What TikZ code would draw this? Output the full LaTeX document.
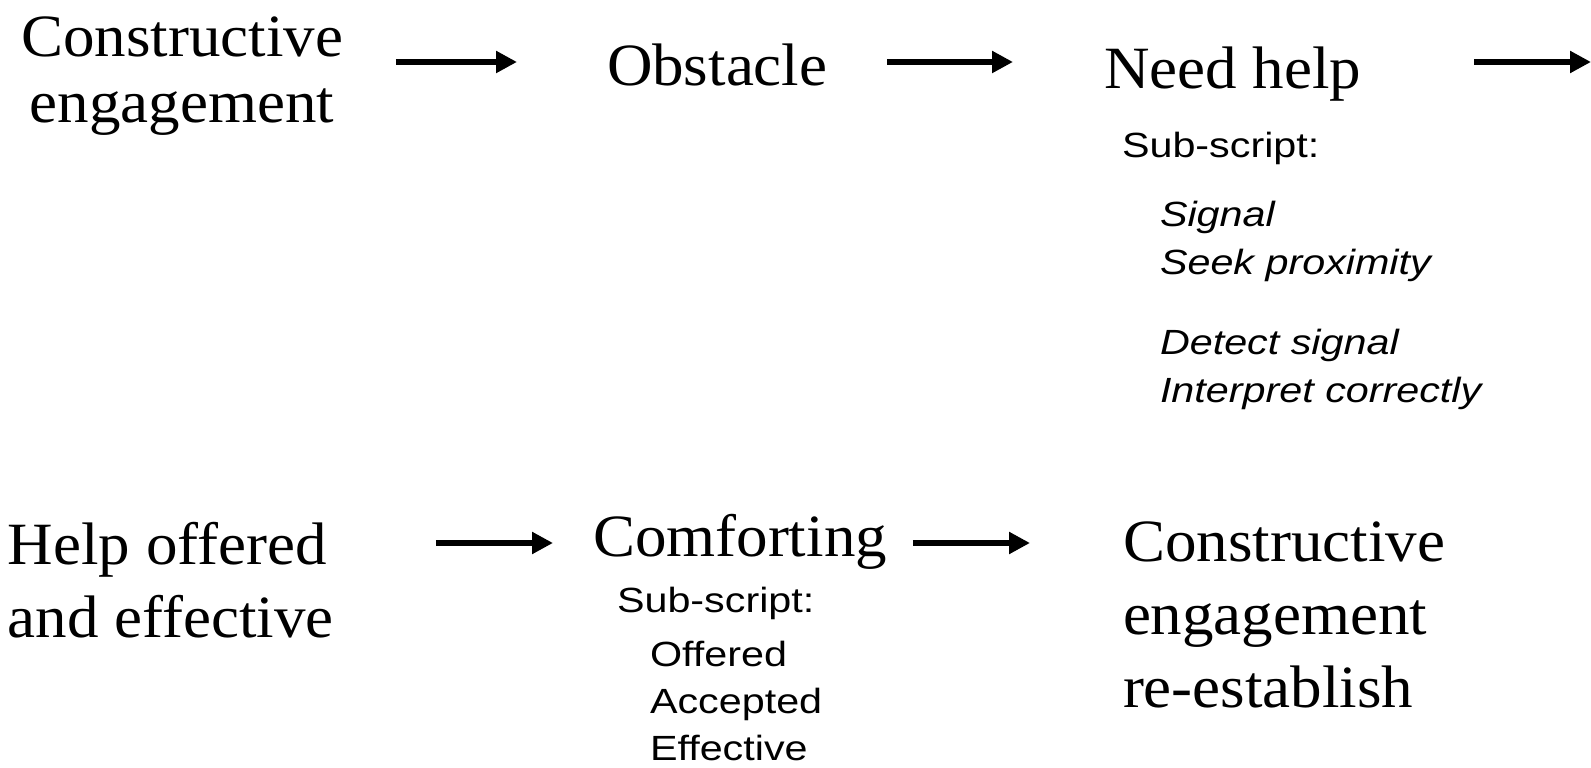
\documentclass[tikz,border=0pt]{standalone}
\usepackage{fontspec}
\usetikzlibrary{arrows.meta}
\newfontfamily\stagefont[FakeStretch=1.05]{Liberation Serif}
\newfontfamily\subfont[FakeStretch=1.18]{Liberation Sans}
\begin{document}
\begin{tikzpicture}[x=1pt,y=1pt,
        every node/.style={inner sep=0pt,outer sep=0pt},
        stage/.style={font=\stagefont\fontsize{60}{66}\selectfont,align=center},
        subhead/.style={font=\subfont\fontsize{35}{48}\selectfont,anchor=base west},
        sublist/.style={font=\subfont\itshape\fontsize{35}{48}\selectfont,align=left,anchor=north west},
        flow/.style={line width=6.5pt,-{Triangle[length=21pt,width=21pt]}}]
    \useasboundingbox (0,0) rectangle (1591,768);
    \coordinate (toplevel) at (0,706);
    \coordinate (lowlevel) at (0,225);
    \coordinate (rightedge) at (1591,706);
    % top row
    \node[stage,anchor=north] (engage) at (182,751) {Constructive\\engagement};
    \node[stage,anchor=base west] (obstacle) at (607,682) {Obstacle};
    \node[stage,anchor=base west] (needhelp) at (1104,679) {Need help};
    \node[subhead] (needsub) at (1122,610) {Sub-script:};
    \node[sublist] (needlist) at (1160,567) {Signal\\Seek proximity\\[32pt]Detect signal\\Interpret correctly};
    % bottom row
    \node[stage,align=left,anchor=north west,font=\stagefont\fontsize{60}{73}\selectfont] (helped) at (8,246) {Help offered\\and effective};
    \node[stage,anchor=base west] (comfort) at (593,211) {Comforting};
    \node[subhead] (comfsub) at (617,155) {Sub-script:};
    \node[sublist,font=\subfont\fontsize{35}{47}\selectfont] (comflist) at (650,127) {Offered\\Accepted\\Effective};
    \node[stage,align=left,anchor=north west,font=\stagefont\fontsize{60}{73}\selectfont] (reengage) at (1123,246) {Constructive\\engagement\\re-establish};
    % arrows
    \draw[flow] ([xshift=53pt]engage.east |- toplevel) -- ([xshift=-90pt]obstacle.west |- toplevel);
    \draw[flow] ([xshift=60pt]obstacle.east |- toplevel) -- ([xshift=-91pt]needhelp.west |- toplevel);
    \draw[flow] ([xshift=113pt]needhelp.east |- toplevel) -- (rightedge);
    \draw[flow] ([xshift=102pt]helped.east |- lowlevel) -- ([xshift=-40pt]comfort.west |- lowlevel);
    \draw[flow] ([xshift=26pt]comfort.east |- lowlevel) -- ([xshift=-93pt]reengage.west |- lowlevel);
\end{tikzpicture}
\end{document}
